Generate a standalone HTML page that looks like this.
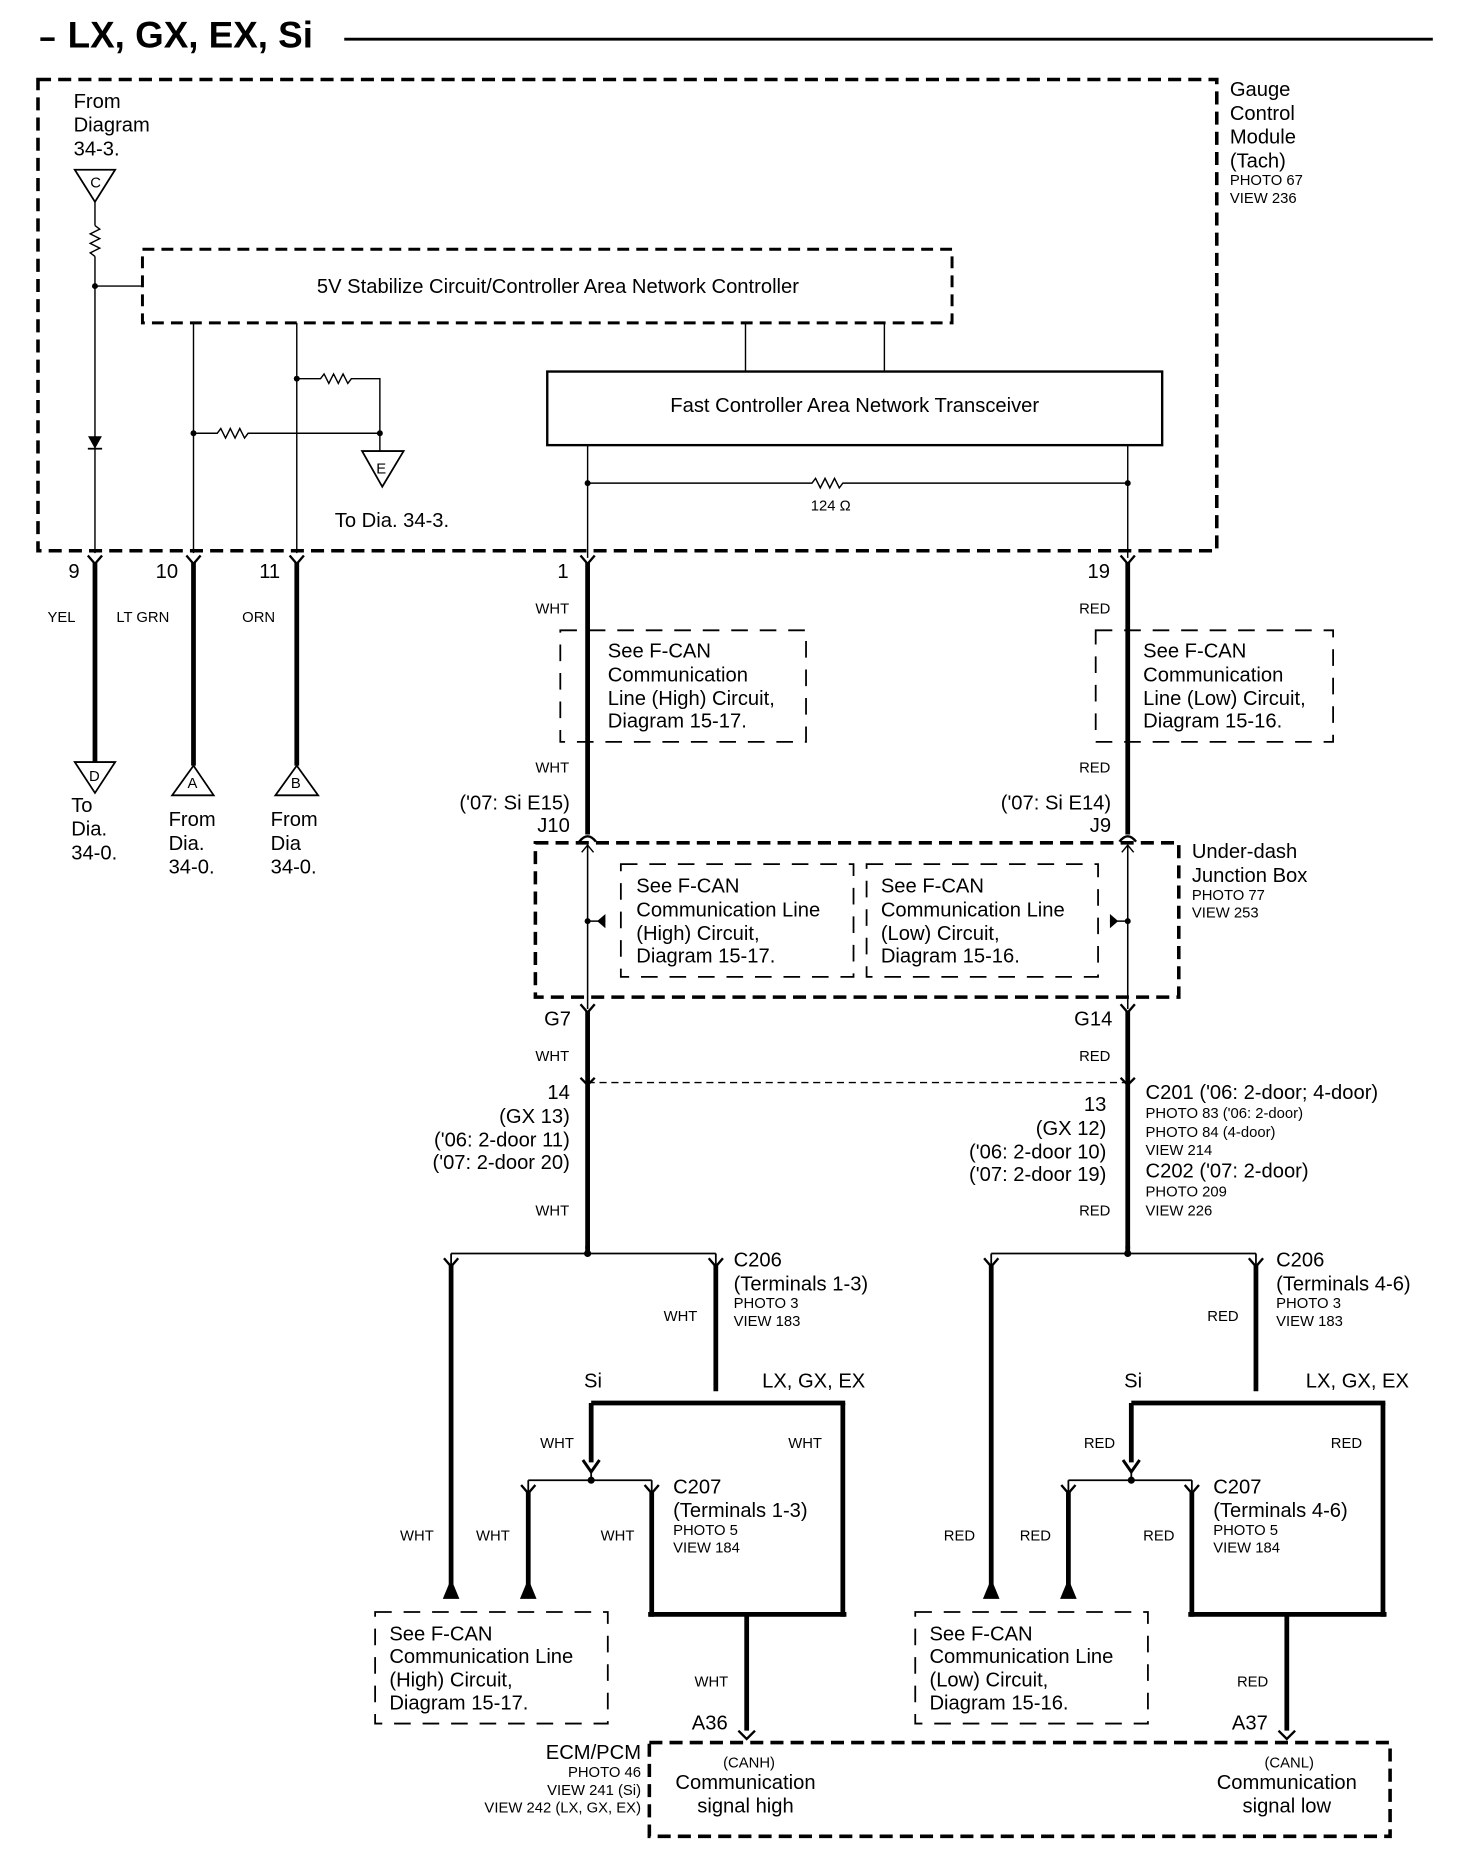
<!DOCTYPE html>
<html><head><meta charset="utf-8"><style>
html,body{margin:0;padding:0;background:#fff}
svg{display:block}
text{font-family:"Liberation Sans",sans-serif;fill:#000}
.t{font-size:17px}.s{font-size:12.5px}.m{font-size:14px}
</style></head><body>
<svg width="1472" height="1866" viewBox="0 0 1240 1572" preserveAspectRatio="none" xmlns="http://www.w3.org/2000/svg">
<g fill="none" stroke="#000">
<line x1="290" y1="33" x2="1207" y2="33" stroke-width="2.5"/>
<line x1="34" y1="33" x2="46" y2="33" stroke-width="3"/>
<rect x="32" y="67" width="993" height="397" stroke-width="3" stroke-dasharray="11,6"/>
<rect x="120" y="210" width="682" height="62" stroke-width="2.5" stroke-dasharray="10,6"/>
<rect x="461" y="313" width="518" height="62" stroke-width="2"/>
<polygon points="63,143 97,143 80,170" stroke-width="1.5"/>
<line x1="80" y1="170" x2="80" y2="190" stroke-width="1.2"/>
<polyline points="80,190 84,193 76,197 84,201 76,205 84,209 76,213 80,216" stroke-width="1.2"/>
<line x1="80" y1="216" x2="80" y2="466" stroke-width="1.2"/>
<line x1="80" y1="241" x2="120" y2="241" stroke-width="1.2"/>
<polygon points="75,368 85,368 80,377" fill="#000" stroke-width="1"/>
<line x1="74" y1="378" x2="86" y2="378" stroke-width="1.5"/>
<line x1="163" y1="272" x2="163" y2="466" stroke-width="1.2"/>
<line x1="250" y1="272" x2="250" y2="466" stroke-width="1.2"/>
<polyline points="163,365 183,365 186,361 190,369 194,361 198,369 202,361 206,369 209,365 320,365" stroke-width="1.2"/>
<polyline points="250,319 270,319 273,315 277,323 281,315 285,323 289,315 293,323 296,319 320,319 320,380" stroke-width="1.2"/>
<polygon points="305,380 340,380 322,410" stroke-width="1.5"/>
<line x1="628" y1="272" x2="628" y2="313" stroke-width="1.2"/>
<line x1="745" y1="272" x2="745" y2="313" stroke-width="1.2"/>
<line x1="495" y1="375" x2="495" y2="470" stroke-width="1.2"/>
<line x1="950" y1="375" x2="950" y2="470" stroke-width="1.2"/>
<polyline points="495,407 684,407 687,403 691,411 695,403 699,411 703,403 707,411 710,407 950,407" stroke-width="1.2"/>
<g stroke-width="2">
<path d="M74,468 L80,475 L86,468"/><path d="M157,468 L163,475 L169,468"/><path d="M244,468 L250,475 L256,468"/>
<path d="M489,468 L495,475 L501,468"/><path d="M944,468 L950,475 L956,468"/>
</g>
<g stroke-width="4">
<line x1="80" y1="474" x2="80" y2="642"/>
<line x1="163" y1="474" x2="163" y2="645"/>
<line x1="250" y1="474" x2="250" y2="645"/>
<line x1="495" y1="474" x2="495" y2="703"/>
<line x1="950" y1="474" x2="950" y2="703"/>
</g>
<polygon points="63,642 97,642 80,668" stroke-width="1.5"/>
<polygon points="145,670 180,670 163,645" stroke-width="1.5"/>
<polygon points="232,670 268,670 250,645" stroke-width="1.5"/>
<rect x="472" y="531" width="207" height="94" stroke-width="1.5" stroke-dasharray="14,10"/>
<rect x="923" y="531" width="200" height="94" stroke-width="1.5" stroke-dasharray="14,10"/>
<rect x="451" y="710" width="542" height="130" stroke-width="3" stroke-dasharray="11,6"/>
<rect x="523" y="728" width="196" height="95" stroke-width="1.5" stroke-dasharray="14,10"/>
<rect x="730" y="728" width="195" height="95" stroke-width="1.5" stroke-dasharray="14,10"/>
<g stroke-width="2"><path d="M488,709 Q495,700 502,709"/><path d="M943,709 Q950,700 957,709"/>
<path d="M489,846 L495,853 L501,846"/><path d="M944,846 L950,853 L956,846"/></g>
<line x1="495" y1="712" x2="495" y2="850" stroke-width="1.3"/>
<line x1="950" y1="712" x2="950" y2="850" stroke-width="1.3"/>
<polyline points="490,718 495,712 500,718" stroke-width="1.2"/>
<polyline points="945,718 950,712 955,718" stroke-width="1.2"/>
<line x1="495" y1="776" x2="510" y2="776" stroke-width="1.2"/>
<polygon points="510,770 510,782 503,776" fill="#000" stroke="none"/>
<line x1="935" y1="776" x2="950" y2="776" stroke-width="1.2"/>
<polygon points="935,770 935,782 942,776" fill="#000" stroke="none"/>
<g stroke-width="4">
<line x1="495" y1="852" x2="495" y2="1052"/>
<line x1="950" y1="852" x2="950" y2="1052"/>
</g>
<line x1="495" y1="912" x2="950" y2="912" stroke-width="1.2" stroke-dasharray="6,4"/>
<g stroke-width="2"><path d="M489,908 L495,914 L501,908"/><path d="M944,908 L950,914 L956,908"/></g>
<g id="L">
<line x1="380" y1="1056" x2="603" y2="1056" stroke-width="1.5"/>
<line x1="495" y1="1050" x2="495" y2="1056" stroke-width="4"/>
<path d="M374,1060 L380,1067 L386,1060" stroke-width="2"/>
<path d="M597,1060 L603,1067 L609,1060" stroke-width="2"/>
<line x1="380" y1="1056" x2="380" y2="1066" stroke-width="1.5"/>
<line x1="603" y1="1056" x2="603" y2="1066" stroke-width="1.5"/>
<line x1="380" y1="1066" x2="380" y2="1336" stroke-width="4"/>
<polygon points="373,1347 387,1347 380,1330" fill="#000" stroke="none"/>
<line x1="603" y1="1066" x2="603" y2="1172" stroke-width="4"/>
<line x1="498" y1="1182" x2="712" y2="1182" stroke-width="4"/>
<line x1="498" y1="1182" x2="498" y2="1232" stroke-width="4"/>
<path d="M491,1230 L498,1240 L505,1230" stroke-width="2.5"/>
<line x1="710" y1="1182" x2="710" y2="1362" stroke-width="4"/>
<line x1="445" y1="1247" x2="549" y2="1247" stroke-width="1.5"/>
<line x1="498" y1="1240" x2="498" y2="1247" stroke-width="1.5"/>
<path d="M439,1251 L445,1258 L451,1251" stroke-width="2"/>
<path d="M543,1251 L549,1258 L555,1251" stroke-width="2"/>
<line x1="445" y1="1247" x2="445" y2="1257" stroke-width="1.5"/>
<line x1="549" y1="1247" x2="549" y2="1257" stroke-width="1.5"/>
<line x1="445" y1="1257" x2="445" y2="1336" stroke-width="4"/>
<polygon points="438,1347 452,1347 445,1330" fill="#000" stroke="none"/>
<line x1="549" y1="1257" x2="549" y2="1362" stroke-width="4"/>
<line x1="546" y1="1360" x2="713" y2="1360" stroke-width="4"/>
<line x1="629" y1="1360" x2="629" y2="1458" stroke-width="4"/>
<path d="M622,1458 L629,1465 L636,1458" stroke-width="2"/>
<rect x="316" y="1358" width="196" height="94" stroke-width="1.5" stroke-dasharray="14,10"/>
</g>
<use href="#L" transform="translate(455,0)"/>
<rect x="547" y="1468" width="624" height="79" stroke-width="3" stroke-dasharray="11,6"/>
</g>
<g fill="#000">
<circle cx="80" cy="241" r="2.5"/><circle cx="163" cy="365" r="2.5"/><circle cx="250" cy="319" r="2.5"/><circle cx="320" cy="365" r="2.5"/>
<circle cx="495" cy="407" r="2.5"/><circle cx="950" cy="407" r="2.5"/>
<circle cx="495" cy="776" r="2.5"/><circle cx="950" cy="776" r="2.5"/>
<circle cx="495" cy="1056" r="3"/><circle cx="950" cy="1056" r="3"/>
<circle cx="498" cy="1247" r="3"/><circle cx="953" cy="1247" r="3"/>
</g>
<text x="57" y="40" style="font-size:31px;font-weight:bold">LX, GX, EX, Si</text>
<g class="t">
<text x="62" y="91">From</text><text x="62" y="111">Diagram</text><text x="62" y="131">34-3.</text>
<text x="1036" y="81">Gauge</text><text x="1036" y="101">Control</text><text x="1036" y="121">Module</text><text x="1036" y="141">(Tach)</text>
<text x="470" y="247" text-anchor="middle">5V Stabilize Circuit/Controller Area Network Controller</text>
<text x="720" y="347" text-anchor="middle">Fast Controller Area Network Transceiver</text>
<text x="282" y="444">To Dia. 34-3.</text>
<text x="67" y="487" text-anchor="end">9</text><text x="150" y="487" text-anchor="end">10</text><text x="236" y="487" text-anchor="end">11</text>
<text x="479" y="487" text-anchor="end">1</text><text x="935" y="487" text-anchor="end">19</text>
<text x="60" y="684">To</text><text x="60" y="704">Dia.</text><text x="60" y="724">34-0.</text>
<text x="142" y="696">From</text><text x="142" y="716">Dia.</text><text x="142" y="736">34-0.</text>
<text x="228" y="696">From</text><text x="228" y="716">Dia</text><text x="228" y="736">34-0.</text>
<text x="512" y="554">See F-CAN</text><text x="512" y="574">Communication</text><text x="512" y="594">Line (High) Circuit,</text><text x="512" y="613">Diagram 15-17.</text>
<text x="963" y="554">See F-CAN</text><text x="963" y="574">Communication</text><text x="963" y="594">Line (Low) Circuit,</text><text x="963" y="613">Diagram 15-16.</text>
<text x="480" y="682" text-anchor="end">('07: Si E15)</text><text x="480" y="701" text-anchor="end">J10</text>
<text x="936" y="682" text-anchor="end">('07: Si E14)</text><text x="936" y="701" text-anchor="end">J9</text>
<text x="1004" y="723">Under-dash</text><text x="1004" y="743">Junction Box</text>
<text x="536" y="752">See F-CAN</text><text x="536" y="772">Communication Line</text><text x="536" y="792">(High) Circuit,</text><text x="536" y="811">Diagram 15-17.</text>
<text x="742" y="752">See F-CAN</text><text x="742" y="772">Communication Line</text><text x="742" y="792">(Low) Circuit,</text><text x="742" y="811">Diagram 15-16.</text>
<text x="481" y="864" text-anchor="end">G7</text><text x="937" y="864" text-anchor="end">G14</text>
<g text-anchor="end"><text x="480" y="926">14</text><text x="480" y="946">(GX 13)</text><text x="480" y="966">('06: 2-door 11)</text><text x="480" y="985">('07: 2-door 20)</text>
<text x="932" y="936">13</text><text x="932" y="956">(GX 12)</text><text x="932" y="976">('06: 2-door 10)</text><text x="932" y="995">('07: 2-door 19)</text></g>
<text x="965" y="926">C201 ('06: 2-door; 4-door)</text><text x="965" y="992">C202 ('07: 2-door)</text>
<text x="618" y="1067">C206</text><text x="618" y="1087">(Terminals 1-3)</text>
<text x="1075" y="1067">C206</text><text x="1075" y="1087">(Terminals 4-6)</text>
<text x="492" y="1169">Si</text><text x="642" y="1169">LX, GX, EX</text>
<text x="947" y="1169">Si</text><text x="1100" y="1169">LX, GX, EX</text>
<text x="567" y="1258">C207</text><text x="567" y="1278">(Terminals 1-3)</text>
<text x="1022" y="1258">C207</text><text x="1022" y="1278">(Terminals 4-6)</text>
<text x="328" y="1382">See F-CAN</text><text x="328" y="1401">Communication Line</text><text x="328" y="1421">(High) Circuit,</text><text x="328" y="1440">Diagram 15-17.</text>
<text x="783" y="1382">See F-CAN</text><text x="783" y="1401">Communication Line</text><text x="783" y="1421">(Low) Circuit,</text><text x="783" y="1440">Diagram 15-16.</text>
<text x="613" y="1457" text-anchor="end">A36</text><text x="1068" y="1457" text-anchor="end">A37</text>
<text x="540" y="1482" text-anchor="end">ECM/PCM</text>
<text x="628" y="1507" text-anchor="middle">Communication</text><text x="628" y="1527" text-anchor="middle">signal high</text>
<text x="1084" y="1507" text-anchor="middle">Communication</text><text x="1084" y="1527" text-anchor="middle">signal low</text>
</g>
<g class="s">
<text x="76" y="158">C</text><text x="317" y="399">E</text><text x="75" y="658">D</text><text x="158" y="664">A</text><text x="245" y="664">B</text>
<text x="1036" y="156">PHOTO 67</text><text x="1036" y="171">VIEW 236</text>
<text x="683" y="430">124 Ω</text>
<text x="40" y="524">YEL</text><text x="98" y="524">LT GRN</text><text x="204" y="524">ORN</text>
<text x="451" y="517">WHT</text><text x="909" y="517">RED</text>
<text x="451" y="651">WHT</text><text x="909" y="651">RED</text>
<text x="1004" y="758">PHOTO 77</text><text x="1004" y="773">VIEW 253</text>
<text x="451" y="894">WHT</text><text x="909" y="894">RED</text>
<text x="965" y="942">PHOTO 83 ('06: 2-door)</text><text x="965" y="958">PHOTO 84 (4-door)</text><text x="965" y="973">VIEW 214</text>
<text x="965" y="1008">PHOTO 209</text><text x="965" y="1024">VIEW 226</text>
<text x="451" y="1024">WHT</text><text x="909" y="1024">RED</text>
<text x="618" y="1102">PHOTO 3</text><text x="618" y="1117">VIEW 183</text>
<text x="1075" y="1102">PHOTO 3</text><text x="1075" y="1117">VIEW 183</text>
<text x="559" y="1113">WHT</text><text x="1017" y="1113">RED</text>
<text x="455" y="1220">WHT</text><text x="664" y="1220">WHT</text>
<text x="913" y="1220">RED</text><text x="1121" y="1220">RED</text>
<text x="567" y="1293">PHOTO 5</text><text x="567" y="1308">VIEW 184</text>
<text x="1022" y="1293">PHOTO 5</text><text x="1022" y="1308">VIEW 184</text>
<text x="337" y="1298">WHT</text><text x="401" y="1298">WHT</text><text x="506" y="1298">WHT</text>
<text x="795" y="1298">RED</text><text x="859" y="1298">RED</text><text x="963" y="1298">RED</text>
<text x="585" y="1421">WHT</text><text x="1042" y="1421">RED</text>
<g text-anchor="end"><text x="540" y="1497">PHOTO 46</text><text x="540" y="1512">VIEW 241 (Si)</text><text x="540" y="1527">VIEW 242 (LX, GX, EX)</text></g>
<text x="631" y="1489" text-anchor="middle">(CANH)</text><text x="1086" y="1489" text-anchor="middle">(CANL)</text>
</g>
</svg>
</body></html>
